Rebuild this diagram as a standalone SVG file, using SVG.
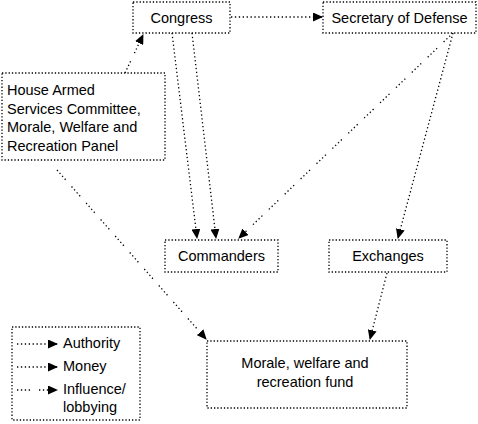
<svg xmlns="http://www.w3.org/2000/svg" width="478" height="424" viewBox="0 0 478 424">
<defs>
<style>
.box{fill:#fff;stroke:#000;stroke-width:1.3;stroke-dasharray:1.3 2}
.t{font-family:"Liberation Sans",Arial,sans-serif;font-size:14.5px;fill:#000}
.c{text-anchor:middle}
.auth,.money{fill:none;stroke:#000;stroke-width:1.3;stroke-dasharray:1.3 2.6;marker-end:url(#ah)}
.infl{fill:none;stroke:#000;stroke-width:1.3;stroke-dasharray:1.3 2.6 1.3 2.6 1.3 2.6 1.3 9;marker-end:url(#ah)}
</style>
<marker id="ah" markerUnits="userSpaceOnUse" markerWidth="10" markerHeight="9" refX="9" refY="4.5" orient="auto">
<path d="M0,0 L10,4.5 L0,9 Z" fill="#000"/>
</marker>
</defs>
<g id="connectors">
<line class="auth" x1="231" y1="17" x2="322" y2="17"/>
<line class="infl" x1="125" y1="73" x2="143" y2="35"/>
<line class="auth" x1="172" y1="33" x2="197" y2="238"/>
<line class="money" x1="192" y1="33" x2="216" y2="238"/>
<line class="infl" x1="453" y1="33" x2="239" y2="238"/>
<line class="auth" x1="453" y1="33" x2="398" y2="238"/>
<line class="money" x1="387" y1="273" x2="370" y2="339"/>
<line class="infl" x1="57" y1="170" x2="206" y2="339"/>
</g>
<g id="congress">
<rect class="box" x="133" y="2" width="97" height="31"/>
<text class="t c" x="181.5" y="23">Congress</text>
</g>
<g id="secdef">
<rect class="box" x="323" y="2" width="153" height="31"/>
<text class="t c" x="399.5" y="23">Secretary of Defense</text>
</g>
<g id="house">
<rect class="box" x="2" y="73" width="163" height="87"/>
<text class="t" x="7" y="95">House Armed</text>
<text class="t" x="7" y="113.5">Services Committee,</text>
<text class="t" x="7" y="132">Morale, Welfare and</text>
<text class="t" x="7" y="150.5">Recreation Panel</text>
</g>
<g id="commanders">
<rect class="box" x="165" y="240" width="113" height="32"/>
<text class="t c" x="221.5" y="261">Commanders</text>
</g>
<g id="exchanges">
<rect class="box" x="329" y="240" width="118" height="32"/>
<text class="t c" x="388" y="261">Exchanges</text>
</g>
<g id="mwrfund">
<rect class="box" x="207" y="341" width="200" height="67"/>
<text class="t c" x="305" y="368">Morale, welfare and</text>
<text class="t c" x="305" y="387">recreation fund</text>
</g>
<g id="legend">
<rect class="box" x="12" y="327" width="128" height="93"/>
<line class="auth" x1="17" y1="344" x2="57" y2="344"/>
<text class="t" x="63" y="348">Authority</text>
<line class="money" x1="17" y1="367" x2="57" y2="367"/>
<text class="t" x="63" y="371">Money</text>
<line class="infl" x1="17" y1="390" x2="57" y2="390"/>
<text class="t" x="63" y="394">Influence/</text>
<text class="t" x="63" y="412">lobbying</text>
</g>
</svg>
